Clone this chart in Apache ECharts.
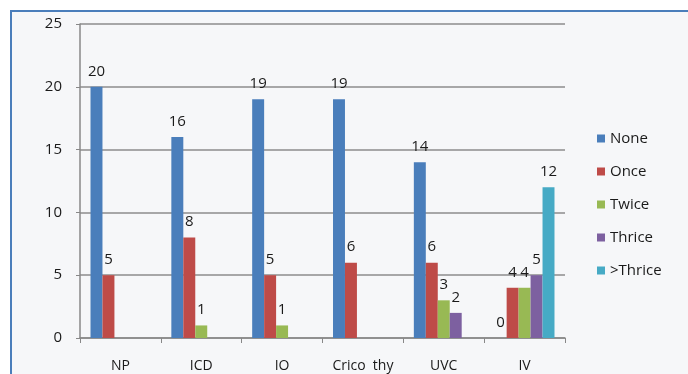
<!DOCTYPE html>
<html lang="en">
<head>
    <meta charset="UTF-8">
    <title>Chart</title>
    <style>
        body { margin: 0; background: #fff; }
        #frame { position: absolute; left: 10px; top: 10px; width: 678px; height: 364px;
                 border-left: 2px solid #4a7ebb; border-top: 2px solid #4a7ebb; background: #f6f7f9; }
        #box { position: absolute; left: 0; top: 0; width: 688px; height: 374px; }
    </style>
</head>
<body>
    <div id="frame"></div>
    <div id="box"></div>
<script src="https://cdn.jsdelivr.net/npm/echarts@6/dist/echarts.min.js"></script>
<script>
    var categories = ["NP", "ICD", "IO", "Crico  thy", "UVC", "IV"];
    var seriesNames = ["None", "Once", "Twice", "Thrice", ">Thrice"];
    var none = [20, 16, 19, 19, 14, 0];
    var once = [5, 8, 5, 6, 6, 4];
    var twice = [null, 1, 1, null, 3, 4];
    var thrice = [null, null, null, null, 2, 5];
    var moreThanThrice = [null, null, null, null, null, 12];
    var yTicks = [0, 5, 10, 15, 20, 25];

    var colors = ["#4a7ebb", "#be4b48", "#98b954", "#7d60a0", "#46aac5"];
    var values = [none, once, twice, thrice, moreThanThrice];

    var box = echarts.init(document.getElementById("box"));
    var series = [];
    for (var i = 0; i < seriesNames.length; i++) {
        series.push({
            name: seriesNames[i],
            type: "bar",
            barGap: "0%",
            barCategoryGap: "26%",
            itemStyle: { color: colors[i] },
            label: {
                show: true,
                position: "top",
                distance: 8,
                color: "#1a1a1a",
                fontSize: 15,
                fontFamily: "Open Sans"
            },
            data: values[i]
        });
    }

    var option = {
        animation: false,
        color: colors,
        grid: { left: 80, right: 123, top: 24, bottom: 36 },
        legend: {
            orient: "vertical",
            left: 592,
            top: 126,
            itemWidth: 8,
            itemHeight: 8,
            itemGap: 18,
            icon: "rect",
            textStyle: { color: "#1a1a1a", fontSize: 15, fontFamily: "Open Sans" },
            data: seriesNames
        },
        xAxis: {
            type: "category",
            data: categories,
            axisLine: { lineStyle: { color: "#888", width: 1.5 } },
            axisTick: { show: true, interval: 0, length: 5, lineStyle: { color: "#888" } },
            axisLabel: { interval: 0, color: "#1a1a1a", fontSize: 14, margin: 21, fontFamily: "Open Sans" }
        },
        yAxis: {
            type: "value",
            min: yTicks[0],
            max: yTicks[yTicks.length - 1],
            interval: 5,
            axisLine: { show: true, lineStyle: { color: "#888", width: 1.5 } },
            axisTick: { show: true, length: 4, lineStyle: { color: "#888" } },
            axisLabel: { color: "#1a1a1a", fontSize: 15, margin: 18, fontFamily: "Open Sans" },
            splitLine: { show: true, lineStyle: { color: "#8c8c8c", width: 1.5 } }
        },
        series: series
    };
    box.setOption(option);
</script>
</body>
</html>
